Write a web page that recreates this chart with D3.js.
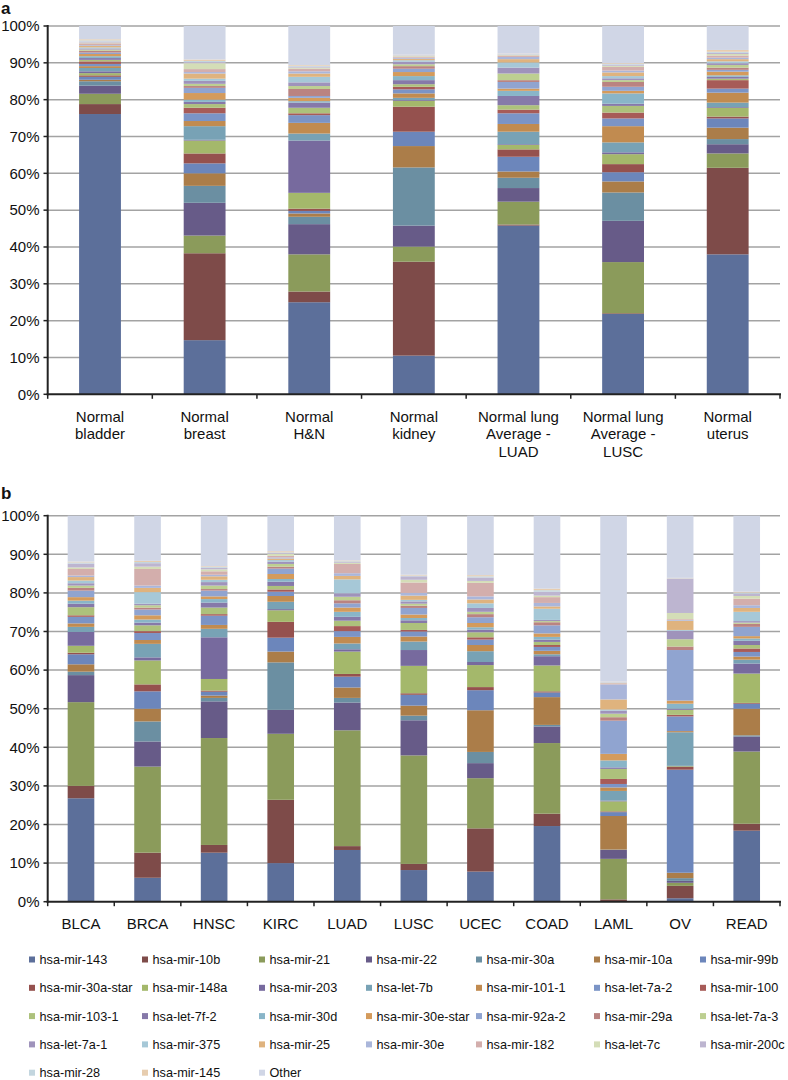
<!DOCTYPE html>
<html lang="en">
<meta charset="utf-8" />
<style>
    body { margin: 0; background: #fff; }
    svg text { font-family: "Liberation Sans", Arial, sans-serif; fill: #111; }
    .grid line { stroke: #a3a3a3; stroke-width: 1.5px; }
    .axis-line { stroke: #222; stroke-width: 2px; }
</style>
<body>
<svg width="788" height="1080"></svg>
<script src="https://d3js.org/d3.v7.min.js"></script>
<script>
    // series, bottom to top of every stack
    var seriesNames = ["hsa-mir-143", "hsa-mir-10b", "hsa-mir-21", "hsa-mir-22", "hsa-mir-30a", "hsa-mir-10a", "hsa-mir-99b",
        "hsa-mir-30a-star", "hsa-mir-148a", "hsa-mir-203", "hsa-let-7b", "hsa-mir-101-1", "hsa-let-7a-2", "hsa-mir-100",
        "hsa-mir-103-1", "hsa-let-7f-2", "hsa-mir-30d", "hsa-mir-30e-star", "hsa-mir-92a-2", "hsa-mir-29a", "hsa-let-7a-3",
        "hsa-let-7a-1", "hsa-mir-375", "hsa-mir-25", "hsa-mir-30e", "hsa-mir-182", "hsa-let-7c", "hsa-mir-200c",
        "hsa-mir-28", "hsa-mir-145", "Other"]

    var yTicks = [0, 10, 20, 30, 40, 50, 60, 70, 80, 90, 100]

    // panel a
    var categoriesA = ["Normal bladder", "Normal breast", "Normal H&N", "Normal kidney",
        "Normal lung Average - LUAD", "Normal lung Average - LUSC", "Normal uterus"]
    var labelLinesA = [["Normal", "bladder"], ["Normal", "breast"], ["Normal", "H&N"], ["Normal", "kidney"],
        ["Normal lung", "Average -", "LUAD"], ["Normal lung", "Average -", "LUSC"], ["Normal", "uterus"]]

    var normalBladder = [76.1, 2.7, 2.8, 2.2, 1.2, 0.4, 0.8, 0.4, 0.6, 0.5, 0.9, 0.5, 0.6, 0.7, 0.4, 0.5, 0.5, 0.6, 0.4, 0.5, 0.3, 0.3, 0.3, 0.4, 0.2, 0.5, 0.2, 0.3, 0.3, 0.3, 3.6]
    var normalBreast = [14.7, 23.6, 4.8, 8.9, 4.6, 3.4, 2.7, 2.7, 3.5, 0.2, 3.7, 1.4, 2.1, 1.5, 1.0, 0.6, 0.6, 1.8, 1.4, 0.5, 0.6, 0.8, 0.6, 1.4, 0.4, 0.8, 1.6, 0.3, 0.3, 0.4, 9.1]
    var normalHN = [25.0, 2.9, 10.1, 8.2, 2.0, 0.9, 0.7, 0.6, 4.3, 14.2, 1.9, 2.9, 2.1, 0.5, 1.5, 1.4, 0.4, 0.9, 0.5, 1.9, 0.8, 1.0, 1.5, 0.9, 0.6, 0.7, 0.3, 0.3, 0.2, 0.2, 10.6]
    var normalKidney = [10.5, 25.5, 4.1, 5.7, 15.8, 5.8, 3.9, 6.8, 1.6, 0.2, 0.6, 1.2, 1.1, 0.7, 0.7, 1.1, 1.1, 1.1, 0.9, 0.7, 0.5, 0.7, 0.4, 0.4, 0.3, 0.3, 0.2, 0.1, 0.1, 0.1, 7.8]
    var normalLungLUAD = [45.8, 0.3, 6.2, 3.7, 2.8, 1.7, 4.0, 2.0, 1.2, 0.2, 3.4, 2.1, 2.9, 1.0, 1.2, 2.5, 1.4, 0.6, 1.8, 0.5, 1.8, 1.6, 1.4, 0.9, 0.6, 0.4, 0.2, 0.1, 0.1, 0.1, 7.5]
    var normalLungLUSC = [21.8, 0.2, 13.9, 11.2, 7.7, 3.0, 2.5, 2.2, 2.7, 0.5, 2.7, 4.4, 2.1, 1.6, 1.8, 0.6, 2.8, 0.7, 1.1, 1.3, 0.5, 0.5, 0.6, 1.0, 0.5, 1.0, 0.3, 0.3, 0.2, 0.2, 10.1]
    var normalUterus = [38.0, 23.5, 3.9, 2.5, 1.4, 3.1, 2.5, 0.5, 2.4, 0.2, 1.2, 2.7, 1.1, 2.3, 0.4, 0.5, 0.4, 1.0, 0.5, 0.6, 0.7, 0.5, 0.5, 0.6, 0.4, 0.6, 0.4, 0.3, 0.3, 0.5, 6.5]

    // panel b
    var categoriesB = ["BLCA", "BRCA", "HNSC", "KIRC", "LUAD", "LUSC", "UCEC", "COAD", "LAML", "OV", "READ"]

    var blca = [26.8, 3.2, 21.7, 7.0, 0.9, 1.9, 2.6, 0.4, 1.8, 3.6, 1.3, 0.9, 1.7, 0.4, 2.1, 0.9, 0.8, 0.9, 1.7, 0.7, 0.6, 0.6, 0.7, 0.9, 0.4, 1.7, 0.4, 1.0, 0.3, 0.2, 11.9]
    var brca = [6.2, 6.5, 22.3, 6.5, 5.2, 3.3, 4.5, 1.8, 6.2, 0.8, 3.5, 1.0, 1.8, 0.5, 1.5, 0.7, 0.8, 1.1, 1.5, 0.5, 0.6, 0.4, 3.0, 1.1, 0.6, 4.3, 0.6, 0.9, 0.3, 0.3, 11.7]
    var hnsc = [12.7, 2.0, 27.7, 9.5, 0.9, 0.6, 1.0, 0.3, 3.0, 10.8, 2.2, 1.0, 2.4, 0.4, 1.7, 1.3, 0.9, 0.7, 1.5, 0.4, 0.9, 0.9, 0.6, 0.9, 0.4, 0.9, 0.5, 0.4, 0.2, 0.2, 13.1]
    var kirc = [10.0, 16.4, 17.1, 6.2, 12.3, 2.8, 3.6, 4.1, 3.0, 0.3, 1.9, 1.5, 1.1, 0.6, 0.9, 1.1, 0.7, 1.3, 1.4, 0.5, 0.7, 0.6, 0.4, 0.4, 0.3, 0.4, 0.5, 0.2, 0.2, 0.3, 9.2]
    var luad = [13.4, 1.0, 30.0, 7.2, 1.2, 2.7, 2.8, 0.7, 5.8, 0.6, 1.5, 1.7, 1.5, 1.3, 1.4, 1.0, 1.3, 1.1, 1.1, 0.8, 0.9, 0.9, 3.6, 0.9, 0.7, 2.4, 0.3, 0.2, 0.2, 0.2, 11.6]
    var lusc = [8.2, 1.6, 28.1, 9.1, 1.2, 2.6, 2.8, 0.4, 7.1, 4.1, 2.2, 1.3, 1.3, 0.4, 1.8, 0.7, 0.6, 0.9, 1.7, 0.6, 0.5, 0.6, 0.4, 1.1, 0.7, 2.7, 0.7, 0.9, 0.2, 0.2, 15.3]
    var ucec = [7.8, 11.2, 13.0, 3.9, 2.9, 10.8, 5.2, 0.8, 5.7, 0.8, 2.8, 1.6, 1.4, 0.6, 1.3, 0.7, 0.6, 1.1, 1.5, 0.8, 0.6, 1.0, 1.2, 1.0, 0.8, 3.5, 0.5, 0.9, 0.3, 0.3, 15.4]
    var coad = [19.6, 3.2, 18.3, 4.3, 0.4, 7.2, 1.2, 0.3, 6.7, 2.4, 0.5, 0.9, 1.0, 0.5, 0.8, 0.6, 0.7, 0.9, 2.1, 0.8, 0.3, 0.3, 2.9, 0.6, 0.9, 1.5, 0.4, 1.0, 0.4, 0.4, 18.9]
    var laml = [0.1, 0.5, 10.5, 2.3, 0.1, 8.7, 1.0, 0.2, 2.6, 0.2, 2.5, 0.9, 0.9, 1.3, 2.6, 0.4, 1.8, 1.7, 8.6, 0.9, 0.9, 0.8, 0.3, 2.6, 3.9, 0.3, 0.1, 0.1, 0.1, 0.1, 43.0]
    var ov = [0.9, 3.2, 0.8, 0.5, 0.7, 1.4, 26.7, 0.7, 0.2, 0.1, 8.7, 0.3, 3.8, 0.4, 1.3, 0.3, 1.3, 0.8, 13.1, 0.9, 1.9, 2.2, 0.2, 2.4, 0.2, 0.2, 1.6, 8.9, 0.1, 0.1, 16.1]
    var read = [18.4, 1.8, 18.7, 3.9, 0.3, 6.9, 1.3, 0.2, 7.6, 2.6, 1.0, 0.8, 1.2, 0.9, 0.9, 1.1, 0.6, 0.6, 2.4, 0.8, 0.3, 0.4, 2.4, 1.0, 0.7, 1.7, 0.7, 0.6, 0.3, 0.2, 19.7]

    var valuesA = [normalBladder, normalBreast, normalHN, normalKidney, normalLungLUAD, normalLungLUSC, normalUterus]
    var valuesB = [blca, brca, hnsc, kirc, luad, lusc, ucec, coad, laml, ov, read]

    // office style colours: six accents, each one darker -> paler
    var shades = [
        ["#5c6f9a", "#6c86bb", "#7b94c6", "#90a4d0", "#aab6da", "#d0d6e6"], // blue
        ["#7e4b49", "#95514e", "#a75b58", "#ba8381", "#d3aeac"], // red
        ["#8b9b5b", "#a4b86b", "#adc17c", "#bdcf91", "#d4ddb7"], // green
        ["#675b88", "#776a9e", "#8679a9", "#9f93bb", "#bdb5d0"], // purple
        ["#6b8fa2", "#78a2b5", "#89b5c8", "#a6c8d7", "#c3d6df"], // aqua
        ["#ab7d49", "#c18b50", "#d49b5c", "#dfb37e", "#e7cdaf"] // orange
    ]
    var color = d3.scaleOrdinal()
        .domain(seriesNames)
        .range(seriesNames.map((d, i) => shades[i % 6][Math.floor(i / 6)]))

    var svg = d3.select("svg")

    function drawPanel(cats, values, top, bottom, lines, letter, letterY) {
        var x = d3.scaleBand()
            .domain(cats)
            .range([47.7, 780])
            .paddingInner(0.6)
            .paddingOuter(0.3)
        var y = d3.scaleLinear()
            .domain([0, 100])
            .range([bottom, top])

        var g = svg.append("g")

        // gridlines
        g.append("g").attr("class", "grid")
            .selectAll("line")
            .data(yTicks.filter(d => d > 0))
            .enter()
            .append("line")
            .attr("x1", 47.7)
            .attr("x2", 780)
            .attr("y1", d => y(d))
            .attr("y2", d => y(d))

        var rows = cats.map((c, i) => {
            var r = { cat: c }
            seriesNames.forEach((s, j) => r[s] = values[i][j])
            return r
        })
        var stacked = d3.stack().keys(seriesNames)(rows)

        g.selectAll("g.series")
            .data(stacked)
            .enter()
            .append("g")
            .attr("class", "series")
            .attr("fill", d => color(d.key))
            .selectAll("rect")
            .data(d => d)
            .enter()
            .append("rect")
            .attr("x", d => x(d.data.cat))
            .attr("width", x.bandwidth())
            .attr("y", d => y(d[1]))
            .attr("height", d => y(d[0]) - y(d[1]))

        // axes drawn by hand, Excel look
        g.append("line").attr("class", "axis-line")
            .attr("x1", 47.7).attr("x2", 47.7)
            .attr("y1", y(100) - 1).attr("y2", y(0) + 1)
        g.append("line").attr("class", "axis-line")
            .attr("x1", 46.7).attr("x2", 781)
            .attr("y1", y(0)).attr("y2", y(0))

        g.selectAll("line.ytick")
            .data(yTicks)
            .enter()
            .append("line")
            .attr("class", "axis-line ytick")
            .style("stroke-width", "1.5px")
            .attr("x1", 43.5).attr("x2", 47.7)
            .attr("y1", d => y(d)).attr("y2", d => y(d))

        var step = x.step()
        g.selectAll("line.xtick")
            .data(d3.range(cats.length + 1))
            .enter()
            .append("line")
            .attr("class", "axis-line xtick")
            .style("stroke-width", "1.5px")
            .attr("x1", i => 47.7 + i * step)
            .attr("x2", i => 47.7 + i * step)
            .attr("y1", y(0))
            .attr("y2", y(0) + 4.5)

        g.selectAll("text.ylab")
            .data(yTicks)
            .enter()
            .append("text")
            .attr("class", "ylab")
            .attr("x", 39.5)
            .attr("y", d => y(d))
            .attr("dy", "0.35em")
            .attr("text-anchor", "end")
            .attr("font-size", 15)
            .text(d => d + "%")

        var labels = g.selectAll("text.xlab")
            .data(cats)
            .enter()
            .append("text")
            .attr("class", "xlab")
            .attr("text-anchor", "middle")
            .attr("font-size", 15)
            .attr("x", d => x(d) + x.bandwidth() / 2)
            .attr("y", y(0) + 27.5)
        labels.selectAll("tspan")
            .data((d, i) => lines ? lines[i] : [d])
            .enter()
            .append("tspan")
            .attr("x", function() { return this.parentNode.getAttribute("x") })
            .attr("dy", (d, i) => i == 0 ? 0 : 17.4)
            .text(d => d)

        svg.append("text")
            .attr("x", 1)
            .attr("y", letterY)
            .attr("font-size", 17)
            .attr("font-weight", "bold")
            .text(letter)
    }

    drawPanel(categoriesA, valuesA, 26, 394.3, labelLinesA, "a", 14)
    drawPanel(categoriesB, valuesB, 515.7, 901.7, null, "b", 499)

    // legend, 7 per row
    var legendCols = [29, 142, 259, 366, 476, 594, 700]
    var legend = svg.append("g")
        .selectAll("g")
        .data(seriesNames)
        .enter()
        .append("g")
        .attr("transform", (d, i) => "translate(" + legendCols[i % 7] + "," + (959.5 + Math.floor(i / 7) * 28.3) + ")")
    legend.append("rect")
        .attr("x", 0)
        .attr("y", -3)
        .attr("width", 6)
        .attr("height", 6)
        .attr("fill", d => color(d))
    legend.append("text")
        .attr("x", 10.5)
        .attr("dy", "0.35em")
        .attr("font-size", 12.7)
        .text(d => d)
</script>
</body>
</html>
